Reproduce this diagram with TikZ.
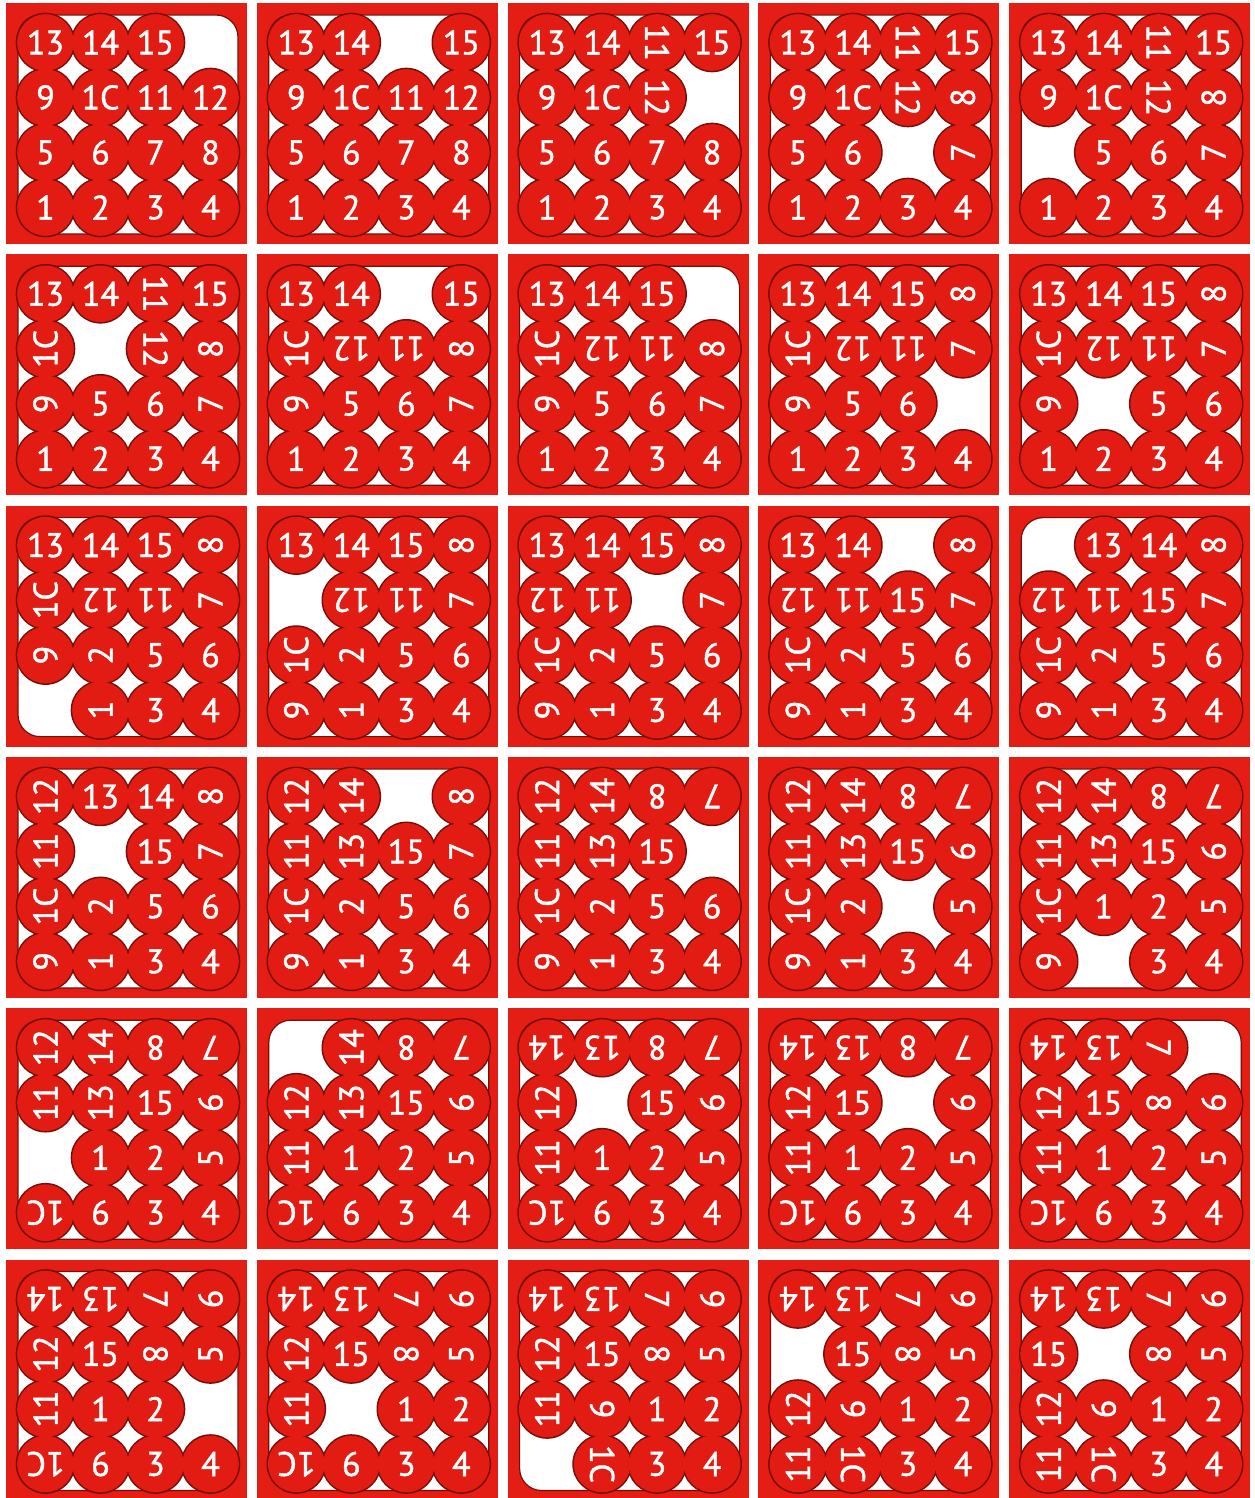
\documentclass[tikz,border=0pt]{standalone}
\usepackage{fontspec}
\setmainfont{PT Sans}
\newfontfamily\digitfont{PT Sans}[FakeBold=1.3]
\usepackage{tikz}
\definecolor{trayR}{RGB}{228,30,20}
\definecolor{puckR}{RGB}{226,28,18}
\definecolor{rimD}{RGB}{115,14,10}
\tikzstyle{tray}=[fill=trayR]
\tikzstyle{hole}=[fill=white, draw=rimD, line width=0.6pt, rounded corners=11pt]
\tikzstyle{rim}=[fill=rimD]
\tikzstyle{puck}=[fill=puckR]
\tikzstyle{digit}=[text=white, inner sep=0pt, font=\digitfont\fontsize{17}{18}\selectfont]
\def\gap{-}
% one tray: column, row, sixteen entries label/angle read row by row
\newcommand{\slidepanel}[3]{%
	\begin{scope}[shift={({6+250.8*#1},{3+251.3*#2})}]
		\fill[tray] (0,0) rectangle (241,241);
		\path[hole] (12,12) rectangle (232,231);
		\foreach \lab/\ang [count=\k from 0] in {#3}{
			\ifx\lab\gap\else
				\fill[rim] ({39.5+55*mod(\k,4)},{39.5+55*floor(\k/4)}) circle[radius=29.8];
			\fi}
		\foreach \lab/\ang [count=\k from 0] in {#3}{
			\ifx\lab\gap\else
				\fill[puck] ({39.5+55*mod(\k,4)},{39.5+55*floor(\k/4)}) circle[radius=28.3];
				\node[digit, rotate=\ang] (d#1#2-\k) at ({39.5+55*mod(\k,4)},{39.5+55*floor(\k/4)}) {\lab};
			\fi}
	\end{scope}}
\begin{document}
\begin{tikzpicture}[x=0.5pt, y=-0.5pt]
				\fill[white] (0,0) rectangle (1254,1498);
				\useasboundingbox (0,0) rectangle (1254,1498);

				% Row 1
				\slidepanel{0}{0}{13/0,14/0,15/0,-/0,9/0,1C/0,11/0,12/0,5/0,6/0,7/0,8/0,1/0,2/0,3/0,4/0}
				\slidepanel{1}{0}{13/0,14/0,-/0,15/0,9/0,1C/0,11/0,12/0,5/0,6/0,7/0,8/0,1/0,2/0,3/0,4/0}
				\slidepanel{2}{0}{13/0,14/0,11/270,15/0,9/0,1C/0,12/270,-/0,5/0,6/0,7/0,8/0,1/0,2/0,3/0,4/0}
				\slidepanel{3}{0}{13/0,14/0,11/270,15/0,9/0,1C/0,12/270,8/90,5/0,6/0,-/0,7/90,1/0,2/0,3/0,4/0}
				\slidepanel{4}{0}{13/0,14/0,11/270,15/0,9/0,1C/0,12/270,8/90,-/0,5/0,6/0,7/90,1/0,2/0,3/0,4/0}

				% Row 2
				\slidepanel{0}{1}{13/0,14/0,11/270,15/0,1C/90,-/0,12/270,8/90,9/90,5/0,6/0,7/90,1/0,2/0,3/0,4/0}
				\slidepanel{1}{1}{13/0,14/0,-/0,15/0,1C/90,12/180,11/180,8/90,9/90,5/0,6/0,7/90,1/0,2/0,3/0,4/0}
				\slidepanel{2}{1}{13/0,14/0,15/0,-/0,1C/90,12/180,11/180,8/90,9/90,5/0,6/0,7/90,1/0,2/0,3/0,4/0}
				\slidepanel{3}{1}{13/0,14/0,15/0,8/90,1C/90,12/180,11/180,7/90,9/90,5/0,6/0,-/0,1/0,2/0,3/0,4/0}
				\slidepanel{4}{1}{13/0,14/0,15/0,8/90,1C/90,12/180,11/180,7/90,9/90,-/0,5/0,6/0,1/0,2/0,3/0,4/0}

				% Row 3
				\slidepanel{0}{2}{13/0,14/0,15/0,8/90,1C/90,12/180,11/180,7/90,9/90,2/90,5/0,6/0,-/0,1/90,3/0,4/0}
				\slidepanel{1}{2}{13/0,14/0,15/0,8/90,-/0,12/180,11/180,7/90,1C/90,2/90,5/0,6/0,9/90,1/90,3/0,4/0}
				\slidepanel{2}{2}{13/0,14/0,15/0,8/90,12/180,11/180,-/0,7/90,1C/90,2/90,5/0,6/0,9/90,1/90,3/0,4/0}
				\slidepanel{3}{2}{13/0,14/0,-/0,8/90,12/180,11/180,15/0,7/90,1C/90,2/90,5/0,6/0,9/90,1/90,3/0,4/0}
				\slidepanel{4}{2}{-/0,13/0,14/0,8/90,12/180,11/180,15/0,7/90,1C/90,2/90,5/0,6/0,9/90,1/90,3/0,4/0}

				% Row 4
				\slidepanel{0}{3}{12/90,13/0,14/0,8/90,11/90,-/0,15/0,7/90,1C/90,2/90,5/0,6/0,9/90,1/90,3/0,4/0}
				\slidepanel{1}{3}{12/90,14/90,-/0,8/90,11/90,13/90,15/0,7/90,1C/90,2/90,5/0,6/0,9/90,1/90,3/0,4/0}
				\slidepanel{2}{3}{12/90,14/90,8/180,7/180,11/90,13/90,15/0,-/0,1C/90,2/90,5/0,6/0,9/90,1/90,3/0,4/0}
				\slidepanel{3}{3}{12/90,14/90,8/180,7/180,11/90,13/90,15/0,6/90,1C/90,2/90,-/0,5/90,9/90,1/90,3/0,4/0}
				\slidepanel{4}{3}{12/90,14/90,8/180,7/180,11/90,13/90,15/0,6/90,1C/90,1/0,2/0,5/90,9/90,-/0,3/0,4/0}

				% Row 5
				\slidepanel{0}{4}{12/90,14/90,8/180,7/180,11/90,13/90,15/0,6/90,-/0,1/0,2/0,5/90,1C/180,9/180,3/0,4/0}
				\slidepanel{1}{4}{-/0,14/90,8/180,7/180,12/90,13/90,15/0,6/90,11/90,1/0,2/0,5/90,1C/180,9/180,3/0,4/0}
				\slidepanel{2}{4}{14/180,13/180,8/180,7/180,12/90,-/0,15/0,6/90,11/90,1/0,2/0,5/90,1C/180,9/180,3/0,4/0}
				\slidepanel{3}{4}{14/180,13/180,8/180,7/180,12/90,15/0,-/0,6/90,11/90,1/0,2/0,5/90,1C/180,9/180,3/0,4/0}
				\slidepanel{4}{4}{14/180,13/180,7/270,-/0,12/90,15/0,8/270,6/90,11/90,1/0,2/0,5/90,1C/180,9/180,3/0,4/0}

				% Row 6
				\slidepanel{0}{5}{14/180,13/180,7/270,6/90,12/90,15/0,8/270,5/90,11/90,1/0,2/0,-/0,1C/180,9/180,3/0,4/0}
				\slidepanel{1}{5}{14/180,13/180,7/270,6/90,12/90,15/0,8/270,5/90,11/90,-/0,1/0,2/0,1C/180,9/180,3/0,4/0}
				\slidepanel{2}{5}{14/180,13/180,7/270,6/90,12/90,15/0,8/270,5/90,11/90,9/270,1/0,2/0,-/0,1C/270,3/0,4/0}
				\slidepanel{3}{5}{14/180,13/180,7/270,6/90,-/0,15/0,8/270,5/90,12/90,9/270,1/0,2/0,11/90,1C/270,3/0,4/0}
				\slidepanel{4}{5}{14/180,13/180,7/270,6/90,15/0,-/0,8/270,5/90,12/90,9/270,1/0,2/0,11/90,1C/270,3/0,4/0}
\end{tikzpicture}
\end{document}
